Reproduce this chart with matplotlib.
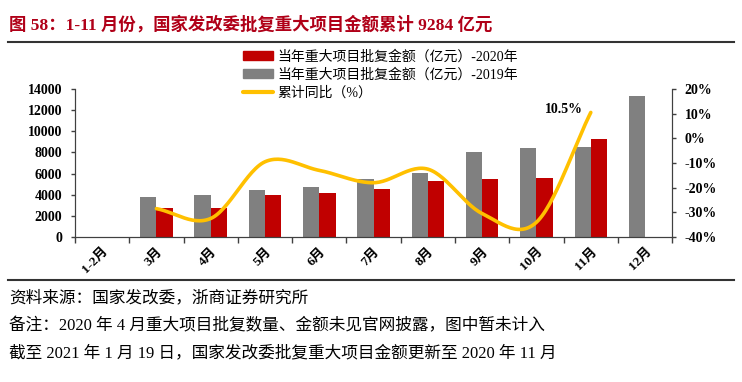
import numpy as np
import matplotlib
matplotlib.use('Agg')
import matplotlib.pyplot as plt
from matplotlib.patches import Patch
from matplotlib.lines import Line2D

# data
months = ['1-2月', '3月', '4月', '5月', '6月', '7月', '8月', '9月', '10月', '11月', '12月']
amt_2019 = [np.nan, 3800, 4000, 4400, 4750, 5450, 6100, 8000, 8400, 8500, 13300]
amt_2020 = [np.nan, 2700, 2700, 4000, 4150, 4500, 5300, 5450, 5600, 9284, np.nan]
yoy_pct = [np.nan, -28.5, -32.5, -9.5, -13, -18, -12.5, -30.5, -34, 10.5, np.nan]

title = '图 58：1-11 月份，国家发改委批复重大项目金额累计 9284 亿元'
notes = ['资料来源：国家发改委，浙商证券研究所',
         '备注：2020 年 4 月重大项目批复数量、金额未见官网披露，图中暂未计入',
         '截至 2021 年 1 月 19 日，国家发改委批复重大项目金额更新至 2020 年 11 月']

fam = ['Liberation Serif', 'Noto Sans CJK SC', 'DejaVu Sans']
plt.rcParams['font.family'] = fam

red = '#C00000'
gray = '#808080'
yellow = '#FFC000'
axcol = '#404040'


def smooth(xs, ys, n=30):
    # catmull-rom curve through the points, like Excel's smoothed line
    xs = np.asarray(xs, float)
    ys = np.asarray(ys, float)
    px = np.concatenate([[2 * xs[0] - xs[1]], xs, [2 * xs[-1] - xs[-2]]])
    py = np.concatenate([[2 * ys[0] - ys[1]], ys, [2 * ys[-1] - ys[-2]]])
    outx, outy = [], []
    t = np.linspace(0, 1, n)
    for i in range(1, len(px) - 2):
        for p, out in ((px, outx), (py, outy)):
            p0, p1, p2, p3 = p[i - 1], p[i], p[i + 1], p[i + 2]
            out.extend(0.5 * ((2 * p1) + (-p0 + p2) * t +
                              (2 * p0 - 5 * p1 + 4 * p2 - p3) * t ** 2 +
                              (-p0 + 3 * p1 - 3 * p2 + p3) * t ** 3))
    return np.array(outx), np.array(outy)


fig = plt.figure(figsize=(7.42, 3.82), dpi=100)
ax = fig.add_axes([0.101, 0.3796, 0.805, 0.3874])
ax2 = ax.twinx()

x = np.arange(len(months))
ax.bar(x - 0.15, amt_2019, width=0.3, color=gray, zorder=2)
ax.bar(x + 0.15, amt_2020, width=0.3, color=red, zorder=2)

ax.set_xlim(-0.5, len(months) - 0.5)
ax.set_ylim(0, 14000)
ax.set_yticks(np.arange(0, 14001, 2000))
ax.set_xticks(x)
ax.set_xticklabels(months, rotation=45, ha='right', rotation_mode='anchor',
                   fontsize=9.5, fontweight='bold')
ax.set_xticks(np.arange(-0.5, len(months), 1), minor=True)
ax.tick_params(axis='x', which='major', length=0, pad=6)
ax.tick_params(axis='x', which='minor', length=4, width=1, color=axcol)
ax.tick_params(axis='y', length=3, width=1, labelsize=10, pad=6, color=axcol)
for lab in ax.get_yticklabels():
    lab.set_fontweight('bold')
ax.spines['top'].set_visible(False)
for s in ('left', 'bottom', 'right'):
    ax.spines[s].set_color(axcol)

yy = np.array(yoy_pct)
ok = ~np.isnan(yy)
sx, sy = smooth(x[ok], yy[ok])
ax2.plot(sx, sy, color=yellow, lw=2.6, solid_capstyle='round', zorder=3)
ax2.set_ylim(-40, 20)
ax2.set_yticks(np.arange(-40, 21, 10))
ax2.set_yticklabels(['%d%%' % v for v in np.arange(-40, 21, 10)],
                    fontsize=10, fontweight='bold')
ax2.tick_params(axis='y', length=3, width=1, pad=6, color=axcol)
ax2.spines['top'].set_visible(False)
for s in ('left', 'bottom', 'right'):
    ax2.spines[s].set_color(axcol)
ax2.annotate('10.5%', (x[9], yoy_pct[9]), xytext=(-6, 2),
             textcoords='offset points', fontsize=10, fontweight='bold',
             va='center', ha='right')

handles = [Patch(color=red), Patch(color=gray),
           Line2D([], [], color=yellow, lw=3, solid_capstyle='round')]
labels = ['当年重大项目批复金额（亿元）-2020年',
          '当年重大项目批复金额（亿元）-2019年',
          '累计同比（%）']
fig.legend(handles, labels, loc='upper left', bbox_to_anchor=(0.318, 0.888),
           frameon=False, fontsize=10, handlelength=2.15, handleheight=0.58,
           handletextpad=0.36, labelspacing=0.34, borderpad=0)

fig.text(0.012, 0.935, title, fontsize=12.5, fontweight='bold', color='#B00018',
         va='center', ha='left')
fig.add_artist(Line2D([0.011, 0.989], [0.89, 0.89], color='#333333', lw=1.5))
fig.add_artist(Line2D([0.011, 0.989], [0.267, 0.267], color='#333333', lw=1.5))
note_y = [0.220, 0.1466, 0.0759]
for t, yv in zip(notes, note_y):
    fig.text(0.012, yv, t, fontsize=12, va='center', ha='left')

fig.savefig('out.png', dpi=100)
